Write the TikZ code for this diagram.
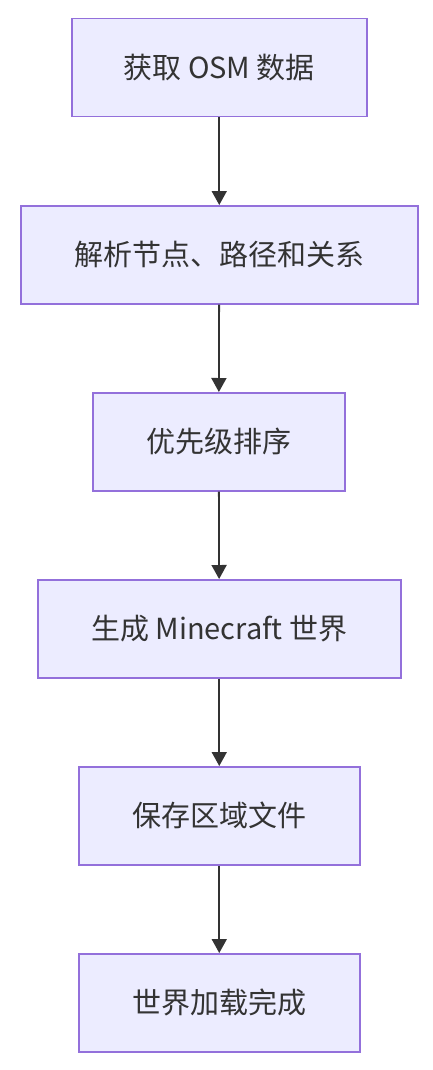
\documentclass[tikz,border=0pt]{standalone}
\usepackage{fontspec}
\setmainfont{Noto Sans CJK SC}
\usetikzlibrary{arrows.meta}
\definecolor{boxfill}{HTML}{ECECFF}
\definecolor{boxline}{HTML}{9370DB}
\definecolor{txt}{HTML}{333333}
\begin{document}
\begin{tikzpicture}[x=1pt,y=-1pt,
  flowbox/.style={draw=boxline,fill=boxfill,line width=1.5pt,inner sep=0pt,
    text=txt,font=\fontsize{29}{34}\selectfont,anchor=north west},
  flowarrow/.style={draw=txt,line width=1.8pt,-{Triangle[length=14pt,width=15pt]}}]
\useasboundingbox (0,0) rectangle (432,1070);
\node[flowbox,minimum width=295pt,minimum height=98pt] (a) at (71,18) {获取 OSM 数据};
\node[flowbox,minimum width=397pt,minimum height=98pt] (b) at (20,205) {解析节点、路径和关系};
\node[flowbox,minimum width=252pt,minimum height=98pt] (c) at (92,392) {优先级排序};
\node[flowbox,minimum width=363pt,minimum height=98pt] (d) at (37,579) {生成 Minecraft 世界};
\node[flowbox,minimum width=281pt,minimum height=98pt] (e) at (78,766) {保存区域文件};
\node[flowbox,minimum width=281pt,minimum height=98pt] (f) at (78,953) {世界加载完成};
\draw[flowarrow] (a) -- (b);
\draw[flowarrow] (b) -- (c);
\draw[flowarrow] (c) -- (d);
\draw[flowarrow] (d) -- (e);
\draw[flowarrow] (e) -- (f);
\end{tikzpicture}
\end{document}
